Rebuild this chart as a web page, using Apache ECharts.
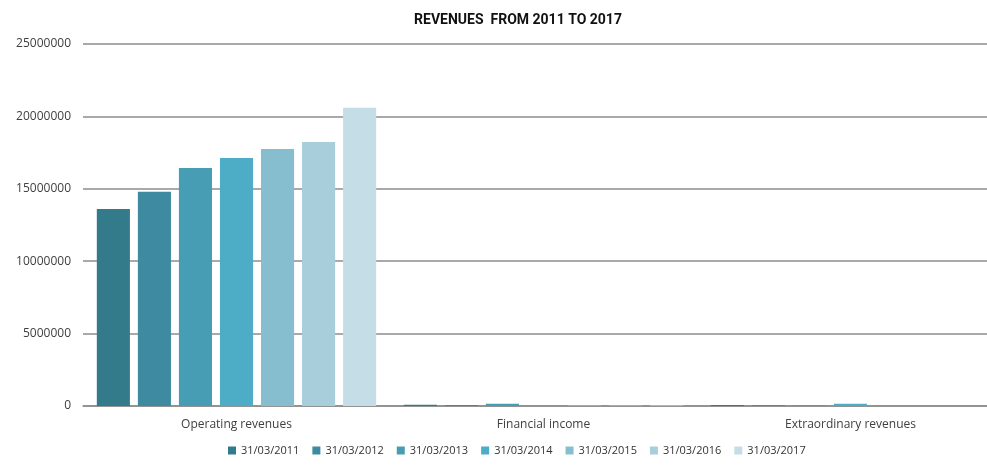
<!DOCTYPE html>
<html>
<head>
<meta charset="utf-8">
<script src="https://cdn.jsdelivr.net/npm/echarts@6/dist/echarts.min.js"></script>
<style>
html,body{margin:0;padding:0;background:#fff;overflow:hidden;}
/* the plot runs a little past the right edge of the window */
#chart{width:1004px;height:465px;}
</style>
</head>
<body>
<div id="chart"></div>
<script>
// Revenue categories and yearly values (fiscal year ending 31/03)
const categories = ['Operating revenues', 'Financial income', 'Extraordinary revenues'];
const years = ['31/03/2011', '31/03/2012', '31/03/2013', '31/03/2014', '31/03/2015', '31/03/2016', '31/03/2017'];
const rev2011 = [13600000, 80000, 70000];
const rev2012 = [14790000, 70000, 60000];
const rev2013 = [16430000, 150000, 60000];
const rev2014 = [17120000, 60000, 150000];
const rev2015 = [17740000, 50000, 0];
const rev2016 = [18240000, 40000, 0];
const rev2017 = [20590000, 35000, 0];
const yearValues = [rev2011, rev2012, rev2013, rev2014, rev2015, rev2016, rev2017];

const colors = ['#337b8a', '#3e8ba1', '#479db4', '#4dadc6', '#86becf', '#a8cddb', '#c5dde6'];

const chart = echarts.init(document.getElementById('chart'));
chart.setOption({
  animation: false,
  color: colors,
  title: {
    text: 'REVENUES  FROM 2011 TO 2017',
    left: 513,
    textAlign: 'center',
    top: 8,
    textStyle: {
      fontFamily: 'Roboto, sans-serif',
      fontSize: 14,
      fontWeight: 'bold',
      color: '#111'
    }
  },
  legend: {
    bottom: 4,
    left: 223,
    itemWidth: 8,
    itemHeight: 8,
    itemGap: 13,
    icon: 'rect',
    textStyle: { fontSize: 11, color: '#333', fontFamily: '"Open Sans", sans-serif' },
    data: years
  },
  grid: { left: 83, top: 44, right: 0, bottom: 59, containLabel: false },
  xAxis: {
    type: 'category',
    data: categories,
    axisTick: { show: false },
    axisLine: { lineStyle: { color: '#8c8c8c', width: 1.5 } },
    axisLabel: { fontSize: 12, color: '#404040', margin: 13, fontFamily: '"Open Sans", sans-serif' }
  },
  yAxis: {
    type: 'value',
    min: 0,
    max: 25000000,
    interval: 5000000,
    axisLine: { show: false },
    axisTick: { show: false },
    splitLine: { lineStyle: { color: '#8c8c8c', width: 1.5 } },
    axisLabel: {
      fontSize: 12, color: '#404040', margin: 12, fontFamily: '"Open Sans", sans-serif',
      formatter: v => String(v)
    }
  },
  series: years.map((y, i) => ({
    name: y,
    type: 'bar',
    data: yearValues[i],
    barGap: '24%',
    barCategoryGap: '9%'
  }))
});
</script>
</body>
</html>
